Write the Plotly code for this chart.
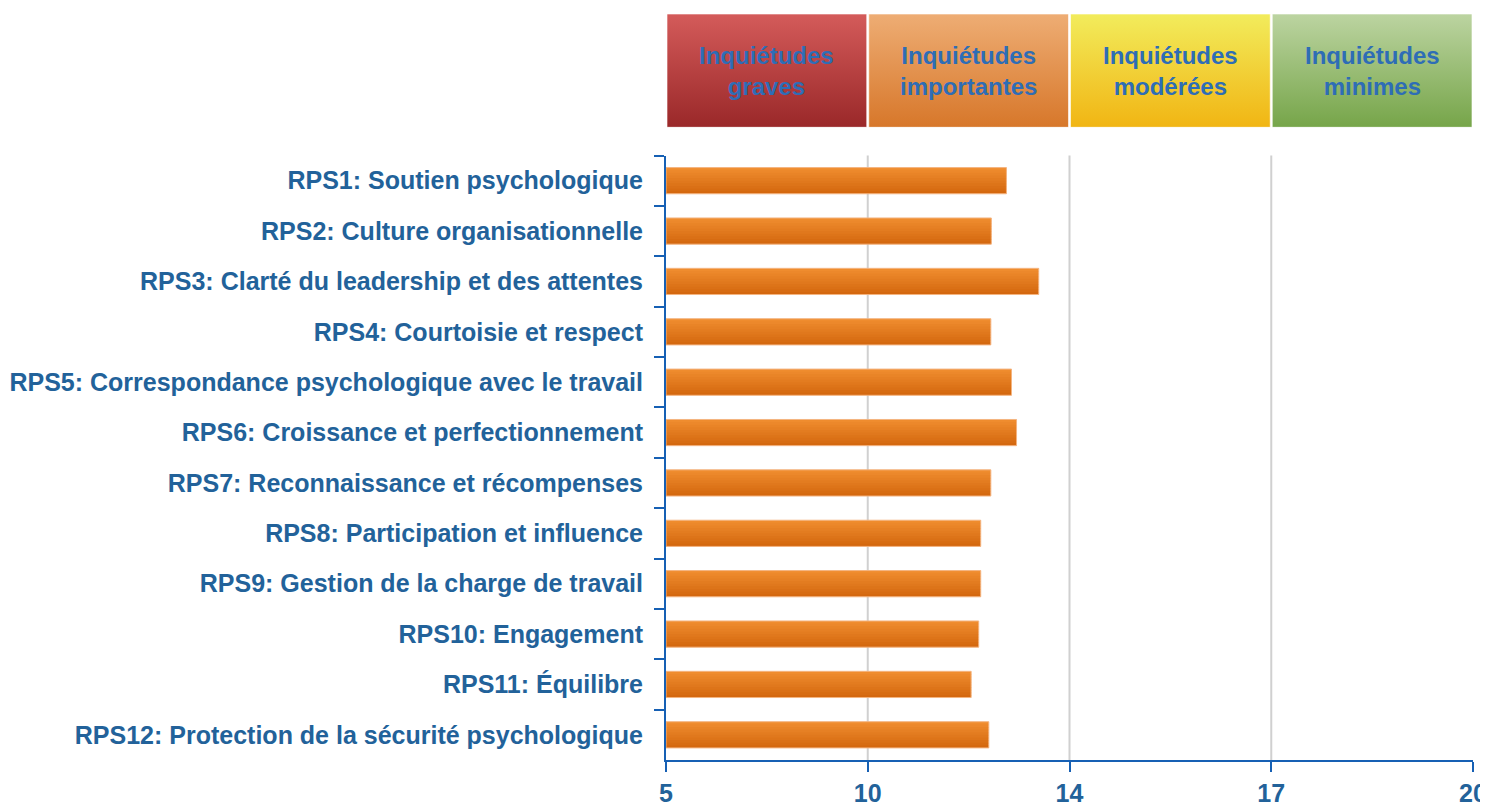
import numpy as np
import plotly.graph_objects as go

# ---------------- data ----------------
categories = [
    "RPS1: Soutien psychologique",
    "RPS2: Culture organisationnelle",
    "RPS3: Clarté du leadership et des attentes",
    "RPS4: Courtoisie et respect",
    "RPS5: Correspondance psychologique avec le travail",
    "RPS6: Croissance et perfectionnement",
    "RPS7: Reconnaissance et récompenses",
    "RPS8: Participation et influence",
    "RPS9: Gestion de la charge de travail",
    "RPS10: Engagement",
    "RPS11: Équilibre",
    "RPS12: Protection de la sécurité psychologique",
]
scores = [12.75, 12.45, 13.39, 12.44, 12.85, 12.95, 12.44, 12.24, 12.24, 12.20, 12.05, 12.40]

tick_values = [5, 10, 14, 17, 20]
tick_labels = ["5", "10", "14", "17", "20"]

band_labels = ["Inquiétudes<br>graves", "Inquiétudes<br>importantes",
               "Inquiétudes<br>modérées", "Inquiétudes<br>minimes"]
band_top_colors = ["#D45B5A", "#EEAD74", "#F2EC5C", "#BCD4A1"]
band_bottom_colors = ["#9A2829", "#D7772A", "#F1B513", "#76A549"]

# ---------------- styling ----------------
AXIS_BLUE = "#1660B4"
LABEL_BLUE = "#22629A"
HEAD_BLUE = "#2E6DB6"
BAR_TOP = (239, 140, 46)
BAR_BOTTOM = (212, 104, 15)
FONT = "Liberation Sans, Arial, Helvetica, sans-serif"

# piecewise scale: each interval between tick values gets equal width
slots = list(range(len(tick_values)))
positions = np.interp(scores, tick_values, slots)

fig = go.Figure()

bar_w = 0.52
n_stripes = 10
overlap = 0.02
for k in range(n_stripes):
    t = k / (n_stripes - 1)
    c = tuple(int(round(BAR_TOP[i] + (BAR_BOTTOM[i] - BAR_TOP[i]) * t)) for i in range(3))
    w = bar_w / n_stripes + (overlap if k < n_stripes - 1 else 0)
    fig.add_trace(go.Bar(
        x=positions, y=categories, orientation="h",
        width=w,
        offset=-bar_w / 2 + k * bar_w / n_stripes,
        marker=dict(color="rgb(%d,%d,%d)" % c, line=dict(width=0)),
        showlegend=False, hoverinfo="skip",
        xaxis="x", yaxis="y",
    ))
# light outline
fig.add_trace(go.Bar(
    x=positions, y=categories, orientation="h",
    width=bar_w, offset=-bar_w / 2,
    marker=dict(color="rgba(0,0,0,0)", line=dict(width=1, color="#F4B480")),
    showlegend=False, hoverinfo="skip",
    xaxis="x", yaxis="y",
))

# header band boxes (gradient fill)
gap = 0.005
for i, lab in enumerate(band_labels):
    x0, x1 = slots[i] + gap, slots[i + 1] - gap
    fig.add_trace(go.Scatter(
        x=[x0, x1, x1, x0, x0], y=[0, 0, 1, 1, 0],
        mode="lines", fill="toself",
        line=dict(width=1, color="rgba(255,255,255,0.6)"),
        fillgradient=dict(type="vertical",
                          colorscale=[[0, band_bottom_colors[i]], [1, band_top_colors[i]]]),
        showlegend=False, hoverinfo="skip",
        xaxis="x", yaxis="y2",
    ))
    fig.add_annotation(
        x=(slots[i] + slots[i + 1]) / 2, y=0.5, xref="x", yref="y2",
        text=lab, showarrow=False,
        font=dict(family=FONT, size=24, color=HEAD_BLUE, weight="bold"),
    )

# vertical grid lines at interior ticks
for s in slots[1:-1]:
    fig.add_shape(type="line", xref="x", yref="y domain", x0=s, x1=s, y0=0, y1=1,
                  line=dict(color="#D0D0D0", width=2), layer="below")

main_top = (760 - 155.5) / 746
head_bot = (760 - 127.3) / 746

fig.update_layout(
    template="none",
    width=1480, height=800,
    margin=dict(l=658, r=15, t=6, b=48),
    paper_bgcolor="white", plot_bgcolor="white",
    barmode="overlay",
    showlegend=False,
    xaxis=dict(
        range=[0, 4], tickvals=slots, ticktext=tick_labels,
        showgrid=False, zeroline=False,
        showline=True, linecolor=AXIS_BLUE, linewidth=2,
        ticks="outside", ticklen=10, tickwidth=2, tickcolor=AXIS_BLUE,
        tickfont=dict(family=FONT, size=25, color=LABEL_BLUE, weight="bold"),
        ticklabelstandoff=0,
        automargin=False, fixedrange=True,
        anchor="y",
    ),
    yaxis=dict(
        domain=[0, main_top],
        categoryorder="array", categoryarray=categories,
        autorange="reversed",
        showgrid=False, zeroline=False,
        showline=True, linecolor=AXIS_BLUE, linewidth=2,
        ticks="outside", tickson="boundaries", ticklen=10, tickwidth=2, tickcolor=AXIS_BLUE,
        tickfont=dict(family=FONT, size=25, color=LABEL_BLUE, weight="bold"),
        ticklabelstandoff=16,
        automargin=False, fixedrange=True,
        anchor="x",
    ),
    yaxis2=dict(
        domain=[head_bot, 1], range=[0, 1],
        showgrid=False, zeroline=False, showline=False,
        showticklabels=False, ticks="",
        automargin=False, fixedrange=True,
        anchor="x",
    ),
)

fig.write_html("out.html")
